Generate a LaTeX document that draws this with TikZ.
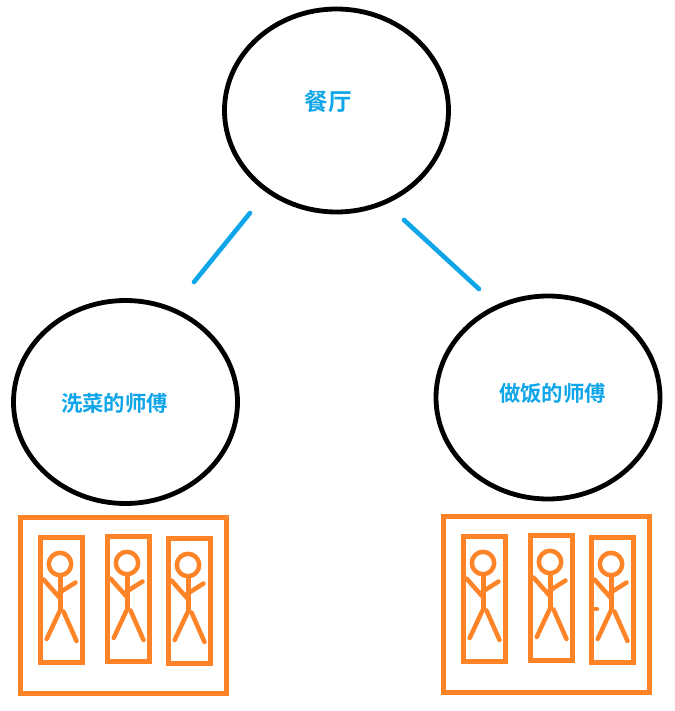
\documentclass[tikz,border=0pt]{standalone}
\usepackage{fontspec}
\setmainfont{Noto Sans CJK SC}[BoldFont={Noto Sans CJK SC Bold}]
\newfontfamily\cjkb{Noto Sans CJK SC Bold}
\usetikzlibrary{shapes.geometric}
\definecolor{orangeink}{HTML}{FF8427}
\definecolor{blueink}{HTML}{0FA5E9}
\tikzset{
  circlebox/.style={draw=black,line width=4.8pt,ellipse,inner sep=0pt,minimum width=224pt,minimum height=203pt},
  label/.style={text=blueink,font=\cjkb\fontsize{21.4pt}{21.4pt}\selectfont,inner sep=0pt},
  biglabel/.style={text=blueink,font=\cjkb\fontsize{23.6pt}{23.6pt}\selectfont,inner sep=0pt},
  link/.style={draw=blueink,line width=4.6pt,line cap=round},
  outerbox/.style={draw=orangeink,line width=5pt},
  cabin/.style={draw=orangeink,line width=5pt},
  limb/.style={draw=orangeink,line width=4.5pt,line cap=round,line join=round},
  stickman/.pic={
    \draw[limb] (0,0) circle (11.2pt);
    \draw[limb,line width=5pt,line cap=butt] (0,11) -- (0,46.5);
    \draw[limb] (-16.5,15.5) -- (-1,33);
    \draw[limb] (15.5,18.5) -- (-1,29);
    \draw[limb] (-0.5,47.5) -- (-13.3,75);
    \draw[limb] (3.5,47.5) -- (16.5,77);
  }
}
\begin{document}
\begin{tikzpicture}[x=1pt,y=-1pt]
\useasboundingbox (0,0) rectangle (674,711);
\node[circlebox] (top) at (336.5,110.5) {};
\node[circlebox] (left) at (125.5,402) {};
\node[circlebox] (right) at (548,397.5) {};
\node[biglabel] (toplabel) at (328,102) {餐厅};
\node[label] (leftlabel) at (114.5,403) {洗菜的师傅};
\node[label] (rightlabel) at (552.5,393) {做饭的师傅};
\coordinate (a1) at (250,213);
\coordinate (a2) at (194,282);
\coordinate (b1) at (404,220);
\coordinate (b2) at (479,289);
\draw[link] (a1) -- (a2);
\draw[link] (b1) -- (b2);
\draw[outerbox] (20.3,517.3) rectangle (226.7,693.3);
\draw[cabin] (40.3,537.3) rectangle (82.7,662.7);
\draw[cabin] (107.3,536.3) rectangle (149.7,661.7);
\draw[cabin] (168.3,538.3) rectangle (210.7,663.7);
\pic at (60,564) {stickman};
\pic at (127,563) {stickman};
\pic at (188,565) {stickman};
\draw[outerbox] (443.3,516.3) rectangle (649.7,692.3);
\draw[cabin] (463.3,536.3) rectangle (505.7,661.7);
\draw[cabin] (530.3,535.3) rectangle (572.7,660.7);
\draw[cabin] (591.3,537.3) rectangle (633.7,662.7);
\pic at (483,563) {stickman};
\pic at (550,562) {stickman};
\pic at (611,564) {stickman};
\draw[limb] (593,609) -- (597,609);
\end{tikzpicture}
\end{document}
